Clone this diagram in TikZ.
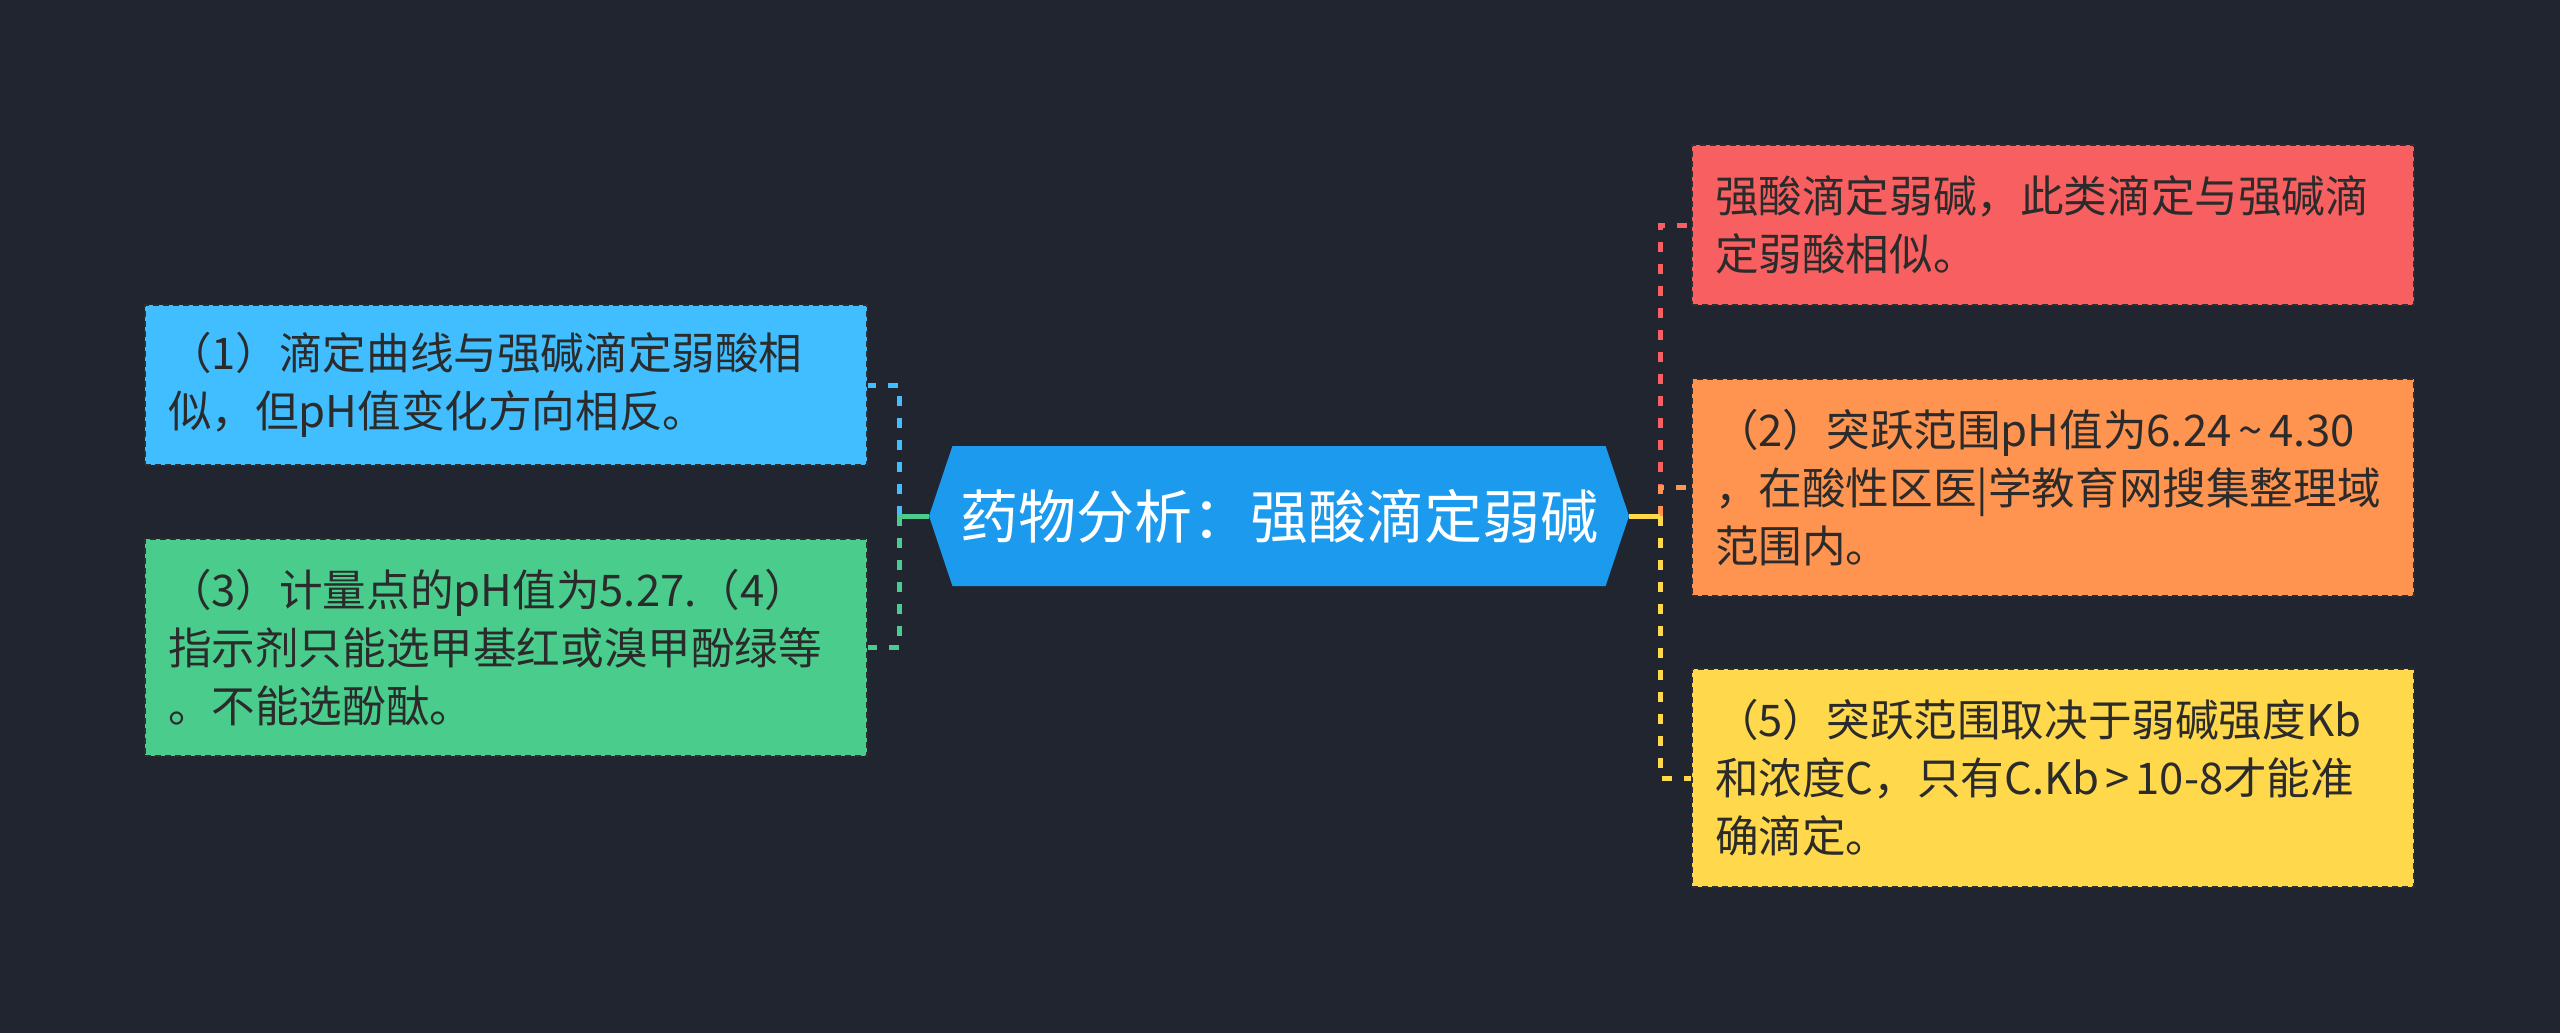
\documentclass[tikz,border=0pt]{standalone}
\usepackage{fontspec}
\setmainfont{Noto Sans CJK SC}
\usetikzlibrary{shapes.symbols}

\definecolor{bgc}{RGB}{33,37,48}
\definecolor{rootc}{RGB}{27,154,238}
\definecolor{bluec}{RGB}{65,190,255}
\definecolor{greenc}{RGB}{74,205,140}
\definecolor{redc}{RGB}{247,95,96}
\definecolor{orangec}{RGB}{255,147,80}
\definecolor{yellowc}{RGB}{255,216,76}
\definecolor{inkc}{RGB}{43,43,43}
\definecolor{edgec}{RGB}{45,45,52}

\begin{document}
\begin{tikzpicture}
[   x=0.5pt, y=-0.5pt,
    leaf/.style={draw=edgec,fill=#1,line width=1pt,dash pattern=on 3pt off 2pt,
        text=inkc,font=\fontsize{21.8}{29}\selectfont,align=left,
        text width=338pt,inner xsep=11.5pt,inner ysep=0pt},
    root/.style={shape=signal,signal to=west and east,signal pointer angle=143,
        fill=rootc,text=white,font=\fontsize{29}{35}\selectfont,
        minimum width=350pt,minimum height=70pt,inner sep=0pt},
    link/.style={draw=#1,line width=2.5pt,dash pattern=on 5pt off 6pt},
    stem/.style={draw=#1,line width=2.5pt},
]
    \fill[bgc] (0,0) rectangle (2560,1033);
    \useasboundingbox (0,0) rectangle (2560,1033);

%%%%%%%%%%%%%%%%%%%% ROOT %%%%%%%%%%%%%%%%%%%%%%%%%%%%%%%%%%%
    \node[root] (root) at (1279,516) {药物分析：强酸滴定弱碱};
    \coordinate (jl) at (899,516);
    \coordinate (jr) at (1660,516);


%%%%%%%%%%%%%%%%%%%% LEFT BRANCHES %%%%%%%%%%%%%%%%%%%%%%%%%%%%%%%%%%%
    \node[leaf=bluec,minimum height=80pt] (l1) at (506,385)
        {（1）滴定曲线与强碱滴定弱酸相\\似，但pH值变化方向相反。};
    \node[leaf=greenc,minimum height=108.5pt] (l2) at (506,647.5)
        {（3）计量点的pH值为5.27.（4）\\指示剂只能选甲基红或溴甲酚绿等\\。不能选酚酞。};
    \draw[link=bluec] (jl) |- (l1.east);
    \draw[link=greenc] (jl) |- (l2.east);
    \draw[stem=greenc] (root.west) -- (jl);


%%%%%%%%%%%%%%%%%%%% RIGHT BRANCHES %%%%%%%%%%%%%%%%%%%%%%%%%%%%%%%%%%%
    \node[leaf=redc,minimum height=80pt] (r1) at (2053,225)
        {强酸滴定弱碱，此类滴定与强碱滴\\定弱酸相似。};
    \node[leaf=orangec,minimum height=108.5pt] (r2) at (2053,487.5)
        {（2）突跃范围pH值为6.24\hspace{3.5pt}\textasciitilde\hspace{3.5pt}4.30\\，在酸性区医|学教育网搜集整理域\\范围内。};
    \node[leaf=yellowc,minimum height=109pt] (r3) at (2053,778)
        {（5）突跃范围取决于弱碱强度Kb\\和浓度C，只有C.Kb\hspace{3pt}>\hspace{3pt}10-8才能准\\确滴定。};
    \draw[link=redc] (jr) |- (r1.west);
    \draw[link=orangec] (jr) |- (r2.west);
    \draw[link=yellowc] (jr) |- (r3.west);
    \draw[stem=yellowc] (root.east) -- (jr);

\end{tikzpicture}
\end{document}
